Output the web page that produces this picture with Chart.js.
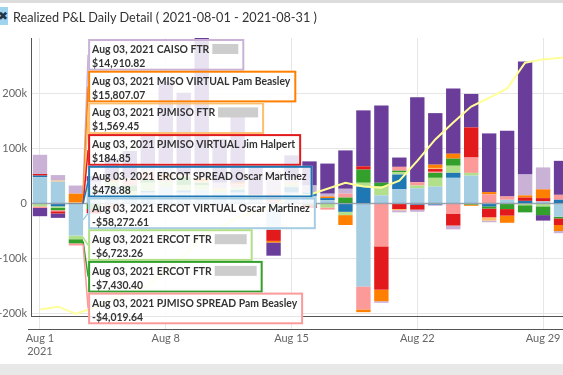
<!DOCTYPE html>
<html>
<head>
<meta charset="utf-8">
<script src="https://cdn.jsdelivr.net/npm/chart.js@4.4.0/dist/chart.umd.min.js"></script>
<style>
  html, body { margin: 0; padding: 0; width: 563px; height: 375px; overflow: hidden; background: #fff; font-family: Lato, sans-serif; }
  .topbar { position: absolute; left: 0; top: 0; width: 563px; height: 3px; background: #dcdcdc; }
  .bottombar { position: absolute; left: 0; top: 364px; width: 563px; height: 11px; background: #e8e8e8; }
  .icon { position: absolute; left: -9px; top: 7px; width: 17px; height: 18px; background: #9fd3ee; color: #234; font-size: 12px; line-height: 18px; text-align: right; }
  .title { position: absolute; left: 13px; top: 9px; font-size: 12.7px; color: #333; white-space: nowrap; }
  #wrap { position: absolute; left: 0; top: 0; width: 590px; height: 364px; }
</style>
</head>
<body>
<div class="topbar"></div>
<div id="wrap"><canvas id="pnlChart" width="590" height="364"></canvas></div>
<div class="icon">&#10006;</div>
<div class="title">Realized P&amp;L Daily Detail ( 2021-08-01 - 2021-08-31 )</div>
<div class="bottombar"></div>
<script>
const days = ['Aug 1', 'Aug 2', 'Aug 3', 'Aug 4', 'Aug 5', 'Aug 6', 'Aug 7', 'Aug 8', 'Aug 9', 'Aug 10',
  'Aug 11', 'Aug 12', 'Aug 13', 'Aug 14', 'Aug 15', 'Aug 16', 'Aug 17', 'Aug 18', 'Aug 19', 'Aug 20',
  'Aug 21', 'Aug 22', 'Aug 23', 'Aug 24', 'Aug 25', 'Aug 26', 'Aug 27', 'Aug 28', 'Aug 29', 'Aug 30', 'Aug 31'];

// series names (bottom of stack first)
const seriesNames = [
  'ERCOT VIRTUAL Oscar Martinez',
  'ERCOT SPREAD Oscar Martinez',
  'ERCOT FTR',
  'ERCOT FTR',
  'PJMISO SPREAD Pam Beasley',
  'PJMISO VIRTUAL Jim Halpert',
  'PJMISO FTR',
  'MISO VIRTUAL Pam Beasley',
  'CAISO FTR',
  'CAISO VIRTUAL'
];

const ercotVirtual = [48000, 40000, -58272.61, 20000, 25000, 15000, 20000, 30000, 20000, 25000, 20000, 20000, 10000, -48000, 20000,
  14000, 6000, 0, -151000, 15000, 26000, 28000, 31000, 47000, 51000, 0, 7000, 0, 4000, -24000, 10000];
const ercotSpread = [3000, -5000, 478.88, 0, 5000, 0, 3000, 0, 4000, 0, 0, 5000, 0, 0, 10000,
  6000, 4000, -15000, 31000, 0, 27000, -2000, -2000, 9000, 0, -5000, 0, 5000, 0, 7000, 0];
const ercotFtrA = [-5000, -3000, -6723.26, 5000, 10000, 8000, 15000, 10000, 10000, 8000, 5000, 5000, 3000, 0, 5000,
  0, -7000, -6000, 7000, 16000, 4000, 5000, 16000, 13000, 5000, 0, 0, -3000, -5000, 0, 0];
const ercotFtrB = [0, -4000, -7430.40, -10000, 0, 10000, 5000, 0, 15000, 5000, 0, 0, 0, 0, 0,
  -3000, 0, 11000, 24000, 7000, 3000, 0, 9000, 13000, -2000, -4000, -10000, -13000, -16000, -3000, 0];
const pjmisoSpread = [-3000, -2000, -4019.64, 0, -10000, 10000, 12000, 5000, 0, 0, 0, 5000, 0, 20000, 0,
  0, -4000, 7000, -42000, -78000, 7000, 6000, 2000, -19000, 28000, 17000, 6000, 0, 0, 9000, 0];
const pjmisoVirtual = [3000, -4000, 184.85, -8000, 0, 0, 0, 0, 0, 0, 0, 0, 0, -20000, 0,
  -5000, 0, 0, 6000, -79000, -10000, -9000, 5000, -21000, 55000, -16000, -12000, 6000, 6000, -12000, -10000];
const pjmisoFtr = [0, 2000, 1569.45, 0, 0, 3000, 3000, 3000, 3000, 3000, 3000, 0, 3000, 0, 3000,
  0, 0, 0, 0, 0, -2000, 0, 2000, 0, 0, -6000, 0, 0, 0, 0, 0];
const misoVirtual = [0, 0, 15807.07, 0, 3000, 0, 0, 5000, 0, 5000, 0, 3000, 0, -3000, 0,
  0, 3000, -18000, -5000, -21000, 0, 0, 6000, 9000, -2000, 4000, -13000, 4000, 16000, -11000, 0];
const caisoFtr = [35000, 10000, 14910.82, 15000, 0, 0, 10000, 20000, 0, 20000, 10000, 0, 0, 40000, 10000,
  13000, 5000, 9000, 0, -3000, -4000, -4000, -2000, -7000, 0, -3000, 0, 38000, 40000, -4000, 0];
const caisoVirtual = [-15000, -8000, 0, 10000, 40000, 50000, 60000, 150000, 150000, 240000, 80000, 120000, 50000, -24000, 40000,
  44000, 55000, 70000, 102000, 141000, 17000, 155000, 94000, 119000, 61000, 107000, 120000, 206000, -10000, 62000, 60000];

// running line (read against the left axis)
const cumulative = [-193000, -188000, -201000, -190000, -175000, -160000, -150000, -120000, -95000, -60000, -45000, -25000, -15000, -5000, 15000,
  16000, 27000, 38000, 31000, 29000, 42000, 78000, 117000, 148000, 177000, 193000, 210000, 257000, 263000, 266000, 272000];

const yTicks = [-200000, -100000, 0, 100000, 200000];

const seriesData = [ercotVirtual, ercotSpread, ercotFtrA, ercotFtrB, pjmisoSpread, pjmisoVirtual, pjmisoFtr, misoVirtual, caisoFtr, caisoVirtual];
const palette = ['#a6cee3', '#1f78b4', '#b2df8a', '#33a02c', '#fb9a99', '#e31a1c', '#fdbf6f', '#ff7f00', '#cab2d6', '#6a3d9a'];

const hoverIndex = 2;
const hoverDate = 'Aug 03, 2021';
// width of the greyed-out owner name, per series
const blurred = { 2: 32, 3: 42, 6: 40, 8: 26 };

const money = v => (v < 0 ? '-$' : '$') + Math.abs(v).toLocaleString('en-US', { minimumFractionDigits: 2, maximumFractionDigits: 2 });

const datasets = seriesData.map((data, i) => ({
  type: 'bar',
  label: seriesNames[i],
  data: data,
  backgroundColor: palette[i],
  borderWidth: 0,
  stack: 'pnl',
  order: 1,
  barPercentage: 1,
  categoryPercentage: 0.8
}));
datasets.push({
  type: 'line',
  label: 'Cumulative',
  data: cumulative,
  yAxisID: 'y1',
  borderColor: '#ffff99',
  borderWidth: 2,
  pointRadius: 0,
  tension: 0,
  order: 0
});

const ctx = document.getElementById('pnlChart').getContext('2d');

new Chart(ctx, {
  data: { labels: days, datasets: datasets },
  options: {
    responsive: false,
    animation: false,
    layout: { padding: { top: 38, right: 2, left: 0, bottom: 0 } },
    scales: {
      x: {
        stacked: true,
        offset: true,
        grid: { offset: false, color: '#e6e6e6', tickLength: 13, tickColor: '#e6e6e6' },
        border: { color: '#555' },
        ticks: {
          autoSkip: false,
          maxRotation: 0,
          padding: 3,
          color: '#666',
          font: { family: 'Lato', size: 11 },
          callback: function (v, i) {
            if (i === 0) return [days[0], '2021'];
            return i % 7 === 0 ? days[i] : null;
          }
        },
        afterFit: s => { s.height = 48; }
      },
      y: {
        stacked: true,
        min: -205000,
        max: 302000,
        afterBuildTicks: s => { s.ticks = yTicks.map(v => ({ value: v })); },
        grid: { color: '#e6e6e6', drawTicks: false },
        border: { color: '#555' },
        ticks: {
          padding: 4,
          color: '#666',
          font: { family: 'Lato', size: 11 },
          callback: v => v === 0 ? '0' : (v / 1000) + 'k'
        },
        afterFit: s => { s.width = 31; }
      },
      y1: { display: false, min: -205000, max: 302000 }
    },
    plugins: {
      legend: { display: false },
      tooltip: { enabled: false }
    }
  },
  plugins: [
    {
      id: 'zeroLine',
      afterDatasetsDraw: (chart) => {
        const c = chart.ctx;
        const y0 = chart.scales.y.getPixelForValue(0);
        const area = chart.chartArea;
        c.save();
        c.strokeStyle = 'rgba(90,110,130,0.55)';
        c.lineWidth = 1.5;
        c.beginPath();
        c.moveTo(area.left, y0);
        c.lineTo(area.right, y0);
        c.stroke();
        c.strokeStyle = '#555';
        c.lineWidth = 1;
        c.beginPath();
        c.moveTo(area.left - 3, area.bottom + 13.5);
        c.lineTo(area.right, area.bottom + 13.5);
        c.stroke();
        c.restore();
      }
    },
    {
      id: 'stackTooltip',
      afterDraw: (chart) => {
        const c = chart.ctx;
        const items = [];
        seriesData.forEach((data, i) => {
          const v = data[hoverIndex];
          if (!v) return;
          const el = chart.getDatasetMeta(i).data[hoverIndex];
          // top of stack first: positives from the last series down, then negatives
          const rank = v > 0 ? -i : 100 + i;
          items.push({ i: i, value: v, rank: rank, y: (el.y + el.base) / 2, right: el.x + el.width / 2 });
        });
        items.sort((a, b) => a.rank - b.rank);
        const h = 31.7;
        const top = chart.chartArea.top + 1;
        c.save();
        c.font = 'bold 10.4px Lato';
        c.textBaseline = 'alphabetic';
        items.forEach((it, k) => {
          const left = it.right + 5;
          const by = top + k * h;
          c.strokeStyle = palette[it.i];
          c.lineWidth = 1.5;
          c.beginPath();
          c.moveTo(it.right, it.y);
          c.lineTo(left, by + h / 2);
          c.stroke();
        });
        items.forEach((it, k) => {
          const left = it.right + 5;
          const by = top + k * h;
          const line1 = hoverDate + ' ' + seriesNames[it.i];
          const line2 = money(it.value);
          const extra = blurred[it.i] ? blurred[it.i] + 3 : 0;
          const w = Math.max(c.measureText(line1).width + extra, c.measureText(line2).width) + 10;
          c.fillStyle = 'rgba(255,255,255,0.85)';
          c.fillRect(left, by, w, h);
          c.strokeStyle = palette[it.i];
          c.lineWidth = 2;
          c.strokeRect(left + 1, by + 1, w - 2, h - 2);
          c.fillStyle = '#333';
          c.fillText(line1, left + 4, by + 14);
          c.fillText(line2, left + 4, by + 28);
          if (extra) {
            c.fillStyle = 'rgba(200,200,200,0.9)';
            c.fillRect(left + 4 + c.measureText(line1).width + 3, by + 5, blurred[it.i], 10);
          }
        });
        c.restore();
      }
    }
  ]
});
</script>
</body>
</html>
